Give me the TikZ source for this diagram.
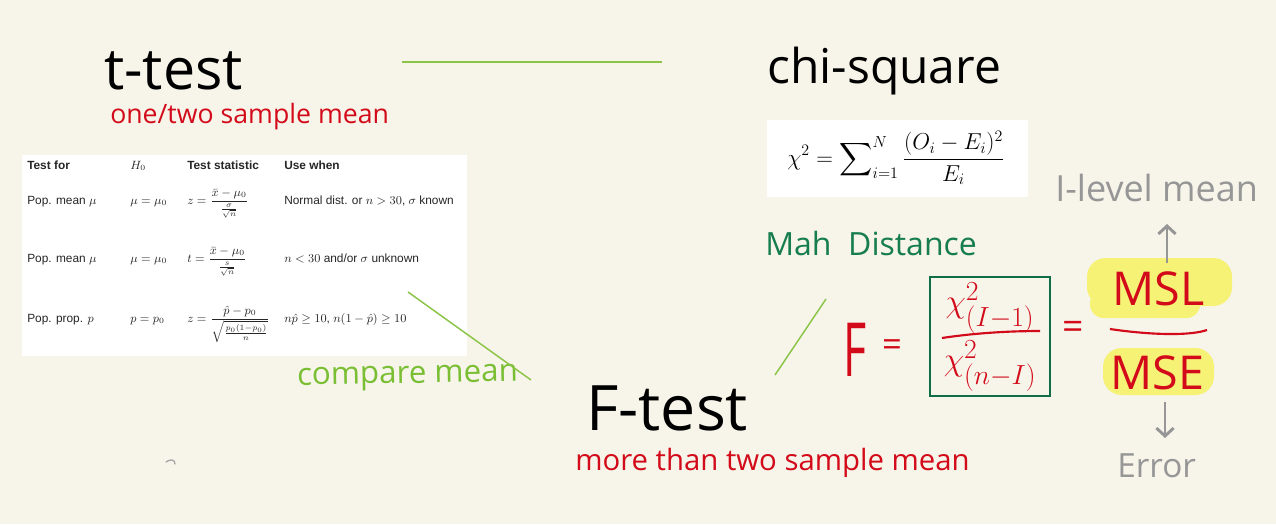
\documentclass[tikz,border=0pt]{standalone}
\usepackage{amsmath}
\usepackage{fontspec}
\setmainfont{Open Sans}
\newfontfamily\tabfont{Liberation Sans}
\usetikzlibrary{arrows.meta}
\definecolor{bg}{RGB}{247,245,234}
\definecolor{hred}{RGB}{210,10,25}
\definecolor{lgreen}{RGB}{140,196,72}
\definecolor{cgreen}{RGB}{122,190,52}
\definecolor{dgreen}{RGB}{22,125,78}
\definecolor{bgreen}{RGB}{15,110,72}
\definecolor{hgrey}{RGB}{150,150,150}
\definecolor{hyellow}{RGB}{246,242,118}
\tikzset{
  hw/.style={inner sep=0pt, anchor=base west},
  title/.style={hw, text=black},
  tcell/.style={inner sep=0pt, anchor=base west, font=\tabfont\fontsize{8.9}{10.5}\selectfont, text=black!85},
  thead/.style={tcell, font=\tabfont\bfseries\fontsize{8.9}{10.5}\selectfont},
  gline/.style={draw=lgreen, line width=1.1pt},
  garrow/.style={draw=hgrey, line width=2.2pt, -{Straight Barb[length=6pt,width=13pt]}},
}
\begin{document}
\begin{tikzpicture}[x=0.75pt,y=-0.75pt]
\fill[bg] (0,0) rectangle (1276,524);
\useasboundingbox (0,0) rectangle (1276,524);

% ---------- t-test ----------
\node[title, font=\fontsize{43}{47}\selectfont] (ttest) at (104,90) {t-test};
\node[hw, text=hred, font=\fontsize{20}{23}\selectfont] (tsub) at (110,123) {one/two sample mean};

% ---------- table ----------
\fill[white] (22,155) rectangle (467,356);
\node[thead] (h1) at (27,169) {Test for};
\node[tcell] (h2) at (130,169) {$H_0$};
\node[thead] (h3) at (187,169) {Test statistic};
\node[thead] (h4) at (284,169) {Use when};

\node[tcell] (r1a) at (27,204) {Pop. mean $\mu$};
\node[tcell] (r1b) at (130,204) {$\mu=\mu_0$};
\node[tcell] (r1c) at (187,204) {$z=\dfrac{\bar{x}-\mu_0}{\frac{\sigma}{\sqrt{n}}}$};
\node[tcell] (r1d) at (284,204) {Normal dist. or $n>30$, $\sigma$ known};

\node[tcell] (r2a) at (27,262) {Pop. mean $\mu$};
\node[tcell] (r2b) at (130,262) {$\mu=\mu_0$};
\node[tcell] (r2c) at (187,262) {$t=\dfrac{\bar{x}-\mu_0}{\frac{s}{\sqrt{n}}}$};
\node[tcell] (r2d) at (284,262) {$n<30$ and/or $\sigma$ unknown};

\node[tcell] (r3a) at (27,322) {Pop. prop. $p$};
\node[tcell] (r3b) at (130,322) {$p=p_0$};
\node[tcell] (r3c) at (187,322) {$z=\dfrac{\hat{p}-p_0}{\sqrt{\frac{p_0(1-p_0)}{n}}}$};
\node[tcell] (r3d) at (284,322) {$n\hat{p}\geq 10$, $n(1-\hat{p})\geq 10$};

% ---------- compare mean ----------
\node[hw, text=cgreen, font=\fontsize{23.5}{27}\selectfont, rotate=1] (cmp) at (297,385) {compare mean};

% ---------- chi-square ----------
\node[title, font=\fontsize{36}{40}\selectfont] (chisq) at (767,84) {chi-square};
\fill[white] (767,120) rectangle (1028,197);
\node[inner sep=0pt, font=\fontsize{18}{21}\selectfont] (chif) at (896,158)
  {$\displaystyle \chi^2=\sum\nolimits_{i=1}^{N}\frac{(O_i-E_i)^2}{E_i}$};

\node[hw, text=dgreen, font=\fontsize{24}{27}\selectfont] (mah) at (765,255) {Mah\ \ Distance};

% ---------- F-test ----------
\node[title, font=\fontsize{47}{51}\selectfont] (ftest) at (586,430) {F-test};
\node[hw, text=hred, font=\fontsize{22}{26}\selectfont] (fsub) at (575,470) {more than two sample mean};

% F formula
\node[inner sep=0pt, text=hred, font=\fontsize{56}{60}\selectfont] (F) at (855,350) {\scalebox{0.6}[1]{F}};
\node[inner sep=0pt, text=hred, font=\fontsize{26}{30}\selectfont] (eq1) at (892,348) {=};
\draw[bgreen, line width=2.2pt] (930,277) rectangle (1050,396);
\node[inner sep=0pt, text=hred, font=\fontsize{30}{34}\selectfont] (num) at (990,308) {$\chi^2_{(I-1)}$};
\draw[hred, line width=1.6pt] (942,338) .. controls (975,333) and (1010,331) .. (1040,331);
\node[inner sep=0pt, text=hred, font=\fontsize{30}{34}\selectfont] (den) at (990,366) {$\chi^2_{(n-I)}$};
\node[inner sep=0pt, text=hred, font=\fontsize{28}{32}\selectfont] (eq2) at (1073,330) {=};

% highlights
\fill[hyellow, rounded corners=14pt] (1087,258) rectangle (1232,306);
\fill[hyellow, rounded corners=10pt] (1090,290) rectangle (1200,318);
\fill[hyellow, rounded corners=14pt] (1103,348) rectangle (1214,395);

\node[hw, text=hred, font=\fontsize{35}{40}\selectfont] (msl) at (1112,305) {MSL};
\draw[hred, line width=1.6pt] (1110,329) .. controls (1150,335) and (1190,336) .. (1207,330);
\node[hw, text=hred, font=\fontsize{35}{40}\selectfont] (mse) at (1110,389) {MSE};

\node[hw, text=hgrey, font=\fontsize{27}{30}\selectfont] (ilev) at (1055,201) {I-level mean};
\node[hw, text=hgrey, font=\fontsize{25}{28}\selectfont] (err) at (1117,477) {Error};

% ---------- connectors ----------
\coordinate (l1a) at (402,62);
\coordinate (l1b) at (662,62);
\draw[gline] (l1a) -- (l1b);
\coordinate (l2a) at (408,292);
\coordinate (l2b) at (531,380);
\draw[gline] (l2a) -- (l2b);
\coordinate (l3a) at (826,299);
\coordinate (l3b) at (775,375);
\draw[gline] (l3a) -- (l3b);

\coordinate (upS) at (1167,263);
\coordinate (upE) at (1167,224);
\draw[garrow] (upS) -- (upE);
\coordinate (dnS) at (1165,402);
\coordinate (dnE) at (1165,438);
\draw[garrow] (dnS) -- (dnE);

% tiny stray mark
\draw[black!35, line width=1pt, line cap=round] (166,462) .. controls (170,459) and (175,459) .. (175,464);
\end{tikzpicture}
\end{document}
